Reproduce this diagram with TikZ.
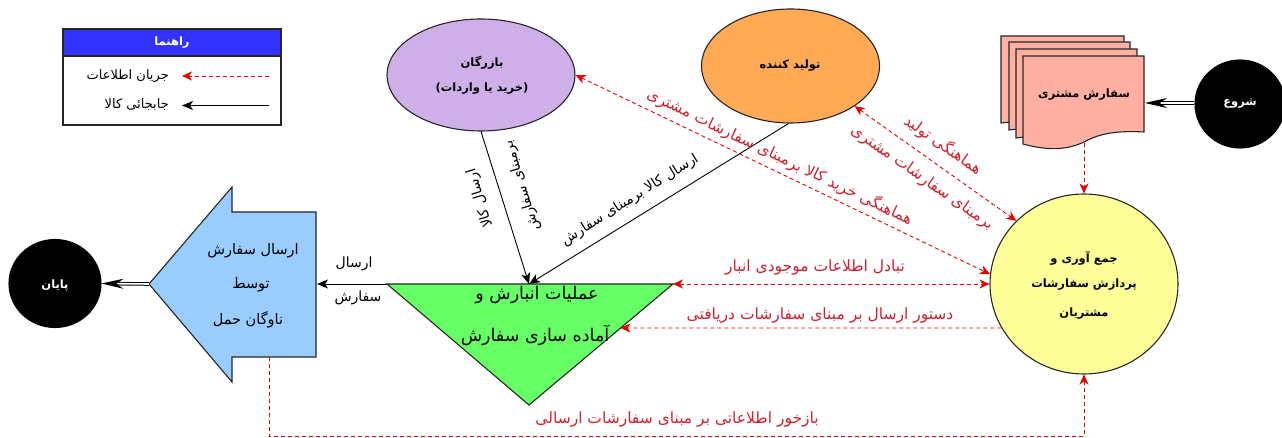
\documentclass[tikz,border=0pt]{standalone}
\usepackage{fontspec}
\usetikzlibrary{arrows.meta,shapes.geometric}
\TeXXeTstate=1
\setmainfont{Liberation Sans}
\newfontfamily\arabicfont[Script=Arabic]{DejaVu Sans}
\newcommand{\ar}[1]{{\arabicfont\beginR #1\endR}}
\newcommand{\arb}[1]{{\arabicfont\bfseries\beginR #1\endR}}
\definecolor{merchantc}{HTML}{CFAFE7}
\definecolor{producerc}{HTML}{FFAA55}
\definecolor{docc}{HTML}{FFB0A3}
\definecolor{yellowc}{HTML}{FFFF99}
\definecolor{trianglec}{HTML}{66FF66}
\definecolor{bluec}{HTML}{99CCFF}
\definecolor{headerc}{HTML}{3333FF}
\definecolor{redtext}{HTML}{D0202E}
\tikzset{
  x=1pt,y=-1pt,
  shapeline/.style={draw=black!85,line width=1.1pt},
  ell/.style={shape=ellipse,shapeline,inner sep=0pt,minimum width=#1},
  flow/.style={draw=black,line width=0.9pt,-{Stealth[length=11pt,width=9pt,inset=3pt]}},
  info/.style={draw=red!90!black,line width=0.9pt,dash pattern=on 4pt off 3pt,-{Stealth[length=10pt,width=9pt,inset=3pt]}},
  infoboth/.style={draw=red!90!black,line width=0.9pt,dash pattern=on 4pt off 3pt,{Stealth[length=10pt,width=9pt,inset=3pt]}-{Stealth[length=10pt,width=9pt,inset=3pt]}},
  dbl/.style={draw=black,double=white,double distance=1.6pt,line width=1pt,-{Stealth[length=22pt,width=10pt]}},
  lab/.style={inner sep=0pt,font=\fontsize{14}{16}\selectfont},
  redlab/.style={lab,text=redtext,font=\fontsize{15.5}{17}\selectfont},
  boldlab/.style={inner sep=0pt,font=\fontsize{11.5}{13}\selectfont},
  whitelab/.style={boldlab,text=white},
}
\begin{document}
\begin{tikzpicture}
\useasboundingbox (0,0) rectangle (1282,438);
% legend
\fill[white] (63,29) rectangle (281,125);
\path[fill=headerc] (63,29) rectangle (281,56);
\draw[shapeline] (63,29) rectangle (281,125);
\draw[shapeline] (63,56) -- (281,56);
\node[whitelab] (legendtitle) at (172,43) {\arb{راهنما}};
\node[boldlab,anchor=east,font=\fontsize{13}{15}\selectfont] (legendinfo) at (169,76) {\ar{جریان اطلاعات}};
\node[boldlab,anchor=east,font=\fontsize{13}{15}\selectfont] (legendgoods) at (169,105) {\ar{جابجائی کالا}};
\coordinate (li1) at (269,76); \coordinate (li2) at (182,76);
\coordinate (lg1) at (269,105.5); \coordinate (lg2) at (182,105.5);
\draw[info] (li1) -- (li2);
\draw[flow] (lg1) -- (lg2);
% ellipses
\node[ell=188pt,minimum height=112pt,fill=merchantc] (merchant) at (481,75) {};
\node[ell=178pt,minimum height=114pt,fill=producerc] (producer) at (790.5,66) {};
\node[ell=188pt,minimum height=180pt,fill=yellowc] (collect) at (1084,284) {};
\node[ell=90pt,minimum height=88pt,fill=black,draw=black] (start) at (1240,104) {};
\node[ell=92pt,minimum height=88pt,fill=black,draw=black] (finish) at (55,283.5) {};
\node[boldlab] at (482,63) (m1) {\arb{بازرگان}};
\node[boldlab] at (482,89) (m2) {\arb{(خرید یا واردات)}};
\node[boldlab] at (790,66) (p1) {\arb{تولید کننده}};
\node[whitelab] at (1240,104) (s1) {\arb{شروع}};
\node[whitelab] at (55,286) (e1) {\arb{پایان}};
\node[boldlab] at (1084,258) (c1) {\arb{جمع آوری و}};
\node[boldlab] at (1084,285) (c2) {\arb{پردازش سفارشات}};
\node[boldlab] at (1084,314) (c3) {\arb{مشتریان}};
% document stack
\draw[shapeline,fill=docc] (1001,36) -- (1124,36) -- (1124,110) -- (1001,123) -- cycle;
\draw[shapeline,fill=docc] (1009,42) -- (1130,42) -- (1130,116) -- (1009,130) -- cycle;
\draw[shapeline,fill=docc] (1016,49) -- (1137,49) -- (1137,124) -- (1016,138) -- cycle;
\draw[shapeline,fill=docc] (1023,56) -- (1144,56) -- (1144,132)
  .. controls (1110,130) and (1095,136) .. (1084,142)
  .. controls (1065,151) and (1045,150) .. (1023,144) -- cycle;
\coordinate (docbottom) at (1084,143);
\coordinate (docright) at (1145,103);
\node[boldlab] at (1084,95) (d1) {\arb{سفارش مشتری}};
% triangle
\coordinate (tl) at (387,284); \coordinate (tr) at (673,284); \coordinate (tb) at (529,405);
\coordinate (ttop) at (529,284); \coordinate (tedge) at (620.6,328);
\draw[shapeline,fill=trianglec] (tl) -- (tr) -- (tb) -- cycle;
\node[lab,font=\fontsize{17.5}{20}\selectfont] at (537,295) (t1) {\ar{عملیات انبارش و}};
\node[lab,font=\fontsize{17.5}{20}\selectfont] at (535,335) (t2) {\ar{آماده سازی سفارش}};
% block arrow
\coordinate (btip) at (149,284); \coordinate (bright) at (317,284); \coordinate (bbottom) at (269,357);
\draw[shapeline,fill=bluec] (btip) -- (232,187) -- (232,212) -- (316,212) -- (316,357) -- (232,357) -- (232,382) -- cycle;
\node[lab,font=\fontsize{14.5}{17}\selectfont] at (253,251) (b1) {\ar{ارسال سفارش}};
\node[lab,font=\fontsize{14.5}{17}\selectfont] at (251,285) (b2) {\ar{توسط}};
\node[lab,font=\fontsize{14.5}{17}\selectfont] at (248,320) (b3) {\ar{ناوگان حمل}};
% black connectors
\draw[flow] (merchant.south) -- (ttop);
\draw[flow] (producer.268) -- (ttop);
\draw[flow] (tl) -- (bright);
\draw[dbl] (start.west |- docright) -- (docright);
\draw[dbl] (btip) -- (finish.east);
% red connectors
\draw[info] (docbottom) -- (collect.north);
\draw[infoboth] (merchant.east) -- (collect.174.5);
\draw[infoboth] (producer.-32) -- (collect.137);
\draw[infoboth] (tr) -- (collect.west);
\draw[info] (collect.208.5) -- (tedge);
\coordinate (fb1) at (269,436); \coordinate (fb2) at (1084,436);
\draw[info] (bbottom) -- (fb1) -- (fb2) -- (collect.south);
% labels
\node[lab] at (354,264) (a1) {\ar{ارسال}};
\node[lab] at (358,298) (a2) {\ar{سفارش}};
\node[lab,rotate=107] at (480,198) (l1) {\ar{ارسال کالا}};
\node[lab,rotate=107] at (522,186) (l2) {\ar{برمبنای سفارش}};
\node[lab,rotate=32] at (630,200) (l3) {\ar{ارسال کالا برمبنای سفارش}};
\node[redlab,rotate=-25.8] at (780,157) (r1) {\ar{هماهنگی خرید کالا برمبنای سفارشات مشتری}};
\node[redlab,rotate=-35] at (943,145) (r2) {\ar{هماهنگی تولید}};
\node[redlab,rotate=-35] at (922,178) (r3) {\ar{برمبنای سفارشات مشتری}};
\node[redlab] at (815,268) (r4) {\ar{تبادل اطلاعات موجودی انبار}};
\node[redlab] at (820,316) (r5) {\ar{دستور ارسال بر مبنای سفارشات دریافتی}};
\node[redlab] at (677,420) (r6) {\ar{بازخور اطلاعاتی بر مبنای سفارشات ارسالی}};
\end{tikzpicture}
\end{document}
